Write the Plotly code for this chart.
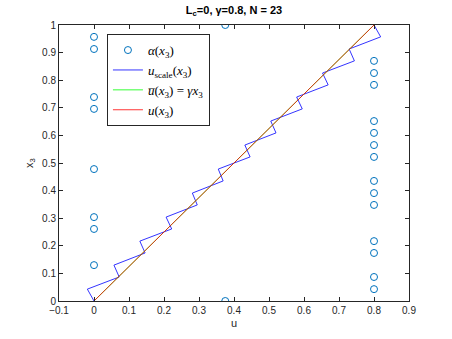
import plotly.graph_objects as go

# alpha(x3) sample points (u, x3)
alpha_u = [0, 0, 0, 0, 0, 0, 0, 0,
           0.375, 0.375,
           0.8, 0.8, 0.8, 0.8, 0.8, 0.8, 0.8, 0.8, 0.8, 0.8, 0.8, 0.8, 0.8, 0.8]
alpha_x3 = [0.957, 0.913, 0.739, 0.696, 0.478, 0.304, 0.261, 0.130,
            1.0, 0.0,
            0.870, 0.826, 0.783, 0.652, 0.609, 0.565, 0.522, 0.435, 0.391, 0.348,
            0.217, 0.174, 0.087, 0.043]

# u_scale(x3) zigzag
uscale_u = [0, -0.019, 0.072, 0.057, 0.146, 0.131, 0.222, 0.206, 0.295, 0.281,
            0.369, 0.355, 0.446, 0.431, 0.52, 0.505, 0.595, 0.579, 0.669, 0.653,
            0.744, 0.729, 0.819, 0.8]
uscale_x3 = [0, 0.043, 0.087, 0.130, 0.174, 0.217, 0.261, 0.304, 0.348, 0.391,
             0.435, 0.478, 0.522, 0.565, 0.609, 0.652, 0.696, 0.739, 0.783, 0.826,
             0.870, 0.913, 0.957, 1.0]

# ubar(x3) = gamma*x3 and u(x3)
ubar_u = [0, 0.8]
ubar_x3 = [0, 1]
u_u = [0, 0.8]
u_x3 = [0, 1]

fig = go.Figure()
fig.add_trace(go.Scatter(x=alpha_u, y=alpha_x3, mode='markers',
                         marker=dict(symbol='circle-open', size=7, color='#0072BD',
                                     line=dict(width=1, color='#0072BD')),
                         name='<i>α</i>(<i>x</i><sub>3</sub>)'))
fig.add_trace(go.Scatter(x=uscale_u, y=uscale_x3, mode='lines',
                         line=dict(color='#0000FF', width=0.8),
                         name='<i>u</i><sub>scale</sub>(<i>x</i><sub>3</sub>)'))
fig.add_trace(go.Scatter(x=ubar_u, y=ubar_x3, mode='lines',
                         line=dict(color='#00FF00', width=0.8),
                         name='<i>u\u0305</i>(<i>x</i><sub>3</sub>) = <i>γx</i><sub>3</sub>'))
fig.add_trace(go.Scatter(x=u_u, y=u_x3, mode='lines',
                         line=dict(color='#FF0000', width=0.8),
                         name='<i>u</i>(<i>x</i><sub>3</sub>)'))

axis_common = dict(showgrid=False, zeroline=False, showline=True, linecolor='#262626',
                   linewidth=1, mirror='ticks', ticks='inside', ticklen=4,
                   tickcolor='#262626', tickfont=dict(size=10, color='#262626'))

fig.update_xaxes(range=[-0.1, 0.9], dtick=0.1, tickformat='.1~f',
                 title=dict(text='u', font=dict(size=11, color='#262626'), standoff=4),
                 **axis_common)
fig.update_yaxes(range=[0, 1], dtick=0.1, tickformat='.1~f',
                 title=dict(text='x<sub>3</sub>', font=dict(size=11, color='#262626'), standoff=6),
                 **axis_common)

fig.update_layout(
    width=452, height=339,
    margin=dict(l=59, r=43, t=25, b=38),
    paper_bgcolor='white', plot_bgcolor='white',
    font=dict(family='Liberation Sans, Arial, sans-serif', color='#262626'),
    title=dict(text='<b>L<sub>c</sub>=0, γ=0.8, N = 23</b>', x=0.5, xref='paper',
               y=0.97, yanchor='middle', font=dict(size=11, color='#000000')),
    showlegend=True,
    legend=dict(x=0.137, y=0.967, xanchor='left', yanchor='top',
                bgcolor='white', bordercolor='#262626', borderwidth=1,
                font=dict(family='Liberation Serif, serif', size=13, color='#000000'),
                tracegroupgap=0, itemwidth=30),
)

# drop the page's default body margin so the figure sits at the window origin
fig.write_html("out.html", config={'displayModeBar': False},
               post_script="document.body.style.margin='0';")
